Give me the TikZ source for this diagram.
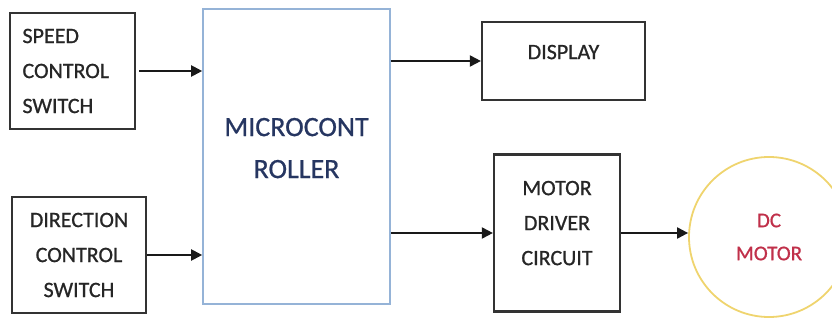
\documentclass[tikz,border=0pt]{standalone}
\usepackage{fontspec}
\setmainfont{Carlito}
\newfontfamily\blockfont{Carlito}[FakeBold=0.8]
\usetikzlibrary{arrows.meta}

\definecolor{mculine}{HTML}{95B3D7}
\definecolor{mcutext}{HTML}{263661}
\definecolor{motortext}{HTML}{C0304A}
\definecolor{motorline}{HTML}{EFD46E}
\definecolor{boxline}{HTML}{333333}

\tikzset{
    blockbox/.style={draw=boxline, line width=2.2pt, inner sep=0pt, align=center,
        font=\blockfont\fontsize{22}{35}\selectfont, text=black!85},
    mcubox/.style={draw=mculine, line width=1.6pt, inner sep=0pt, align=center,
        font=\blockfont\fontsize{28}{42}\selectfont, text=mcutext},
    motorcirc/.style={circle, draw=motorline, line width=1.8pt, inner sep=0pt,
        minimum size=160pt, align=center, font=\blockfont\fontsize{21}{33}\selectfont, text=motortext},
    flow/.style={-{Triangle[length=11pt,width=11pt]}, line width=2pt, black!90}
}

\begin{document}
\begin{tikzpicture}[x=1pt,y=-1pt]
        \useasboundingbox (0,0) rectangle (832,323);
        % input switches
        \node[blockbox, minimum width=125pt, minimum height=116pt, align=left, text width=100pt] (speed) at (72.5,71) {SPEED\\CONTROL\\SWITCH};
        \node[blockbox, minimum width=134pt, minimum height=116pt] (dir) at (79,255) {DIRECTION\\CONTROL\\SWITCH};
        % controller
        \node[mcubox, minimum width=187pt, minimum height=295pt, text depth=17pt] (mcu) at (296.5,156.5) {MICROCONT\\ROLLER};
        % outputs
        \node[blockbox, minimum width=163pt, minimum height=78pt, text depth=18pt] (disp) at (563.5,61) {DISPLAY};
        \node[blockbox, minimum width=126pt, minimum height=157pt, text depth=20pt] (drv) at (557,233) {MOTOR\\DRIVER\\CIRCUIT};
        \node[motorcirc] (motor) at (769,237) {DC\\MOTOR};

        \draw[flow] ([xshift=3pt]speed.east) -- (mcu.west |- speed.east);
        \draw[flow] (dir.east) -- (mcu.west |- dir.east);
        \draw[flow] (mcu.east |- disp.west) -- (disp.west);
        \draw[flow] (mcu.east |- drv.west) -- (drv.west);
        \draw[flow] (drv.east) -- (motor.west |- drv.east);
    \end{tikzpicture}
\end{document}
